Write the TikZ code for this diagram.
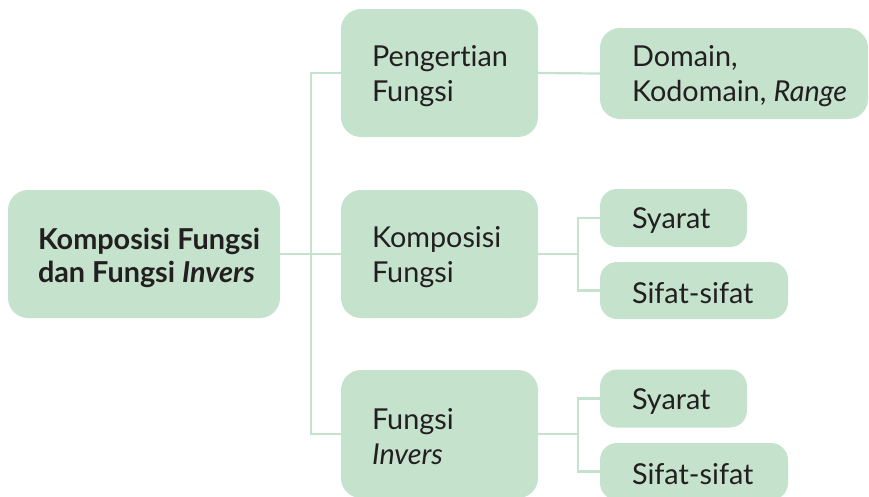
\documentclass[tikz,border=0pt]{standalone}
\usepackage{fontspec}
\setmainfont{Lato}[Ligatures=NoCommon]
\definecolor{boxfill}{HTML}{C4E2CC}
\definecolor{linecol}{HTML}{C4E2CC}
\definecolor{txtcol}{HTML}{231F20}
\tikzset{
  box/.style={fill=boxfill, draw=none, rounded corners=20pt, inner sep=0pt},
  smallbox/.style={fill=boxfill, draw=none, rounded corners=17pt, inner sep=0pt},
  label/.style={anchor=west, align=left, inner sep=0pt, text=txtcol,
    font=\fontsize{28.8}{35}\selectfont, yshift=-3pt},
  conn/.style={draw=linecol, line width=2.2pt},
}
\begin{document}
\begin{tikzpicture}[x=1pt,y=-1pt]
\useasboundingbox (0,0) rectangle (869,496);
\clip (0,0) rectangle (869,496);
% boxes
\node[box, minimum width=272pt, minimum height=128pt] (main) at (144,254) {};
\node[box, minimum width=197pt, minimum height=128pt] (pf) at (439.5,73) {};
\node[box, minimum width=197pt, minimum height=128pt] (kf) at (439.5,254) {};
\node[box, minimum width=197pt, minimum height=128pt] (fi) at (439.5,434) {};
\node[box, minimum width=268pt, minimum height=91pt] (dom) at (734,73.5) {};
\node[smallbox, minimum width=147pt, minimum height=58pt] (sy1) at (673.5,218) {};
\node[smallbox, minimum width=188pt, minimum height=57pt] (sf1) at (694,290.5) {};
\node[smallbox, minimum width=147pt, minimum height=58pt] (sy2) at (673.5,398.5) {};
\node[smallbox, minimum width=188pt, minimum height=57pt] (sf2) at (694,471.5) {};
% texts
\node[label, font=\fontsize{28.8}{33}\selectfont\bfseries, yshift=-1pt] (maint) at ([xshift=30pt]main.west) {Komposisi Fungsi\\dan Fungsi \textit{Invers}};
\node[label] (pft) at ([xshift=31pt]pf.west) {Pengertian\\Fungsi};
\node[label] (kft) at ([xshift=31pt]kf.west) {Komposisi\\Fungsi};
\node[label] (fit) at ([xshift=31pt]fi.west) {Fungsi\\\textit{Invers}};
\node[label] (domt) at ([xshift=32pt]dom.west) {Domain,\\Kodomain, \textit{Range}};
\node[label] (sy1t) at ([xshift=32pt]sy1.west) {Syarat};
\node[label] (sf1t) at ([xshift=32pt]sf1.west) {Sifat-sifat};
\node[label] (sy2t) at ([xshift=32pt]sy2.west) {Syarat};
\node[label] (sf2t) at ([xshift=32pt]sf2.west) {Sifat-sifat};
% connectors
\draw[conn] (main.east) -- (kf.west);
\draw[conn] (pf.west) -- ++(-30,0) |- (fi.west);
\draw[conn] (pf.east) -- (dom.west);
\draw[conn] (kf.east) -- ++(40,0);
\draw[conn] (sy1.west) -- ++(-22,0) |- (sf1.west);
\draw[conn] (fi.east) -- ++(40,0);
\draw[conn] (sy2.west) -- ++(-22,0) |- (sf2.west);
\end{tikzpicture}
\end{document}
